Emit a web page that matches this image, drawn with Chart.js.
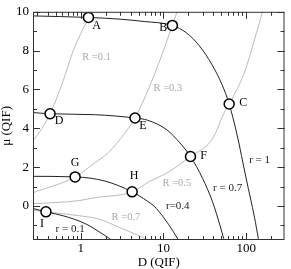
<!DOCTYPE html>
<html>
<head>
<meta charset="utf-8">
<script src="https://cdn.jsdelivr.net/npm/chart.js@4.4.1/dist/chart.umd.min.js"></script>
<style>
    html, body { margin: 0; padding: 0; background: #fff; }
    #chart { display: block; }
</style>
</head>
<body>
<canvas id="chart" width="291" height="269"></canvas>
<script>
// ---- data ----
// black curves, constant r
const r1D = [0.25, 1.24, 3, 5.85, 12.8, 18.9, 27.1, 38.9, 51, 62.2, 76.7, 100, 126, 140, 150];
const r1Mu = [9.79, 9.71, 9.62, 9.5, 9.3, 8.92, 8.25, 7.25, 6.25, 5.25, 3.75, 1.4, -0.6, -1.67, -2.4];
const r07D = [0.25, 0.426, 1.51, 4.53, 6.4, 11, 15.8, 21.2, 29.7, 38.9, 48.8, 53.3, 56];
const r07Mu = [4.82, 4.75, 4.7, 4.53, 4.42, 3.92, 3.25, 2.55, 1.42, 0.25, -1.08, -1.67, -2];
const r04D = [0.25, 0.855, 1.98, 4.18, 6.4, 7.67, 10, 13.2, 15.1, 16];
const r04Mu = [1.53, 1.5, 1.28, 0.73, 0.25, 0, -0.58, -1.33, -1.75, -1.95];
const r01D = [0.25, 0.38, 0.61, 1.15, 1.8, 2.33, 2.5];
const r01Mu = [-0.1, -0.3, -0.5, -0.92, -1.42, -1.75, -1.9];

// gray curves, constant R
const R01D = [0.25, 0.271, 0.426, 0.61, 0.8, 1.06, 1.24, 1.34];
const R01Mu = [3.3, 3.42, 4.75, 6.42, 7.92, 9.1, 9.71, 10.3];
const R03D = [0.25, 0.855, 1.51, 2.16, 3.4, 4.53, 6.7, 9.5, 12.8, 14.7, 16];
const R03Mu = [0.65, 1.5, 2.25, 2.75, 3.75, 4.53, 6.1, 7.75, 9.3, 10.05, 10.6];
const R05D = [0.25, 0.96, 1.44, 4.18, 6.7, 11.5, 21.2, 38.9, 55.8, 62.2, 95.9, 126, 158, 170];
const R05Mu = [0.11, 0.28, 0.42, 0.73, 1.25, 1.75, 2.55, 3.45, 4.92, 5.25, 6.92, 8.58, 10.05, 10.6];
const R07D = [0.25, 0.38, 0.96, 1.65, 2.84, 4.88, 6.4, 7];
const R07Mu = [-0.2, -0.3, -0.5, -0.67, -1.08, -1.5, -1.75, -1.9];

// marked states
const pointNames = ["A", "B", "C", "D", "E", "F", "G", "H", "I"];
const pointD = [1.24, 12.8, 62.2, 0.426, 4.53, 21.2, 0.855, 4.18, 0.38];
const pointMu = [9.71, 9.3, 5.25, 4.75, 4.53, 2.55, 1.5, 0.73, -0.3];

const xTicks = [1, 10, 100];
const yTicks = [0, 2, 4, 6, 8, 10];

// ---- layout / style ----
const black = "#222";
const gray = "#bbb";
const grayText = "#aaa";
const serif = "'Liberation Serif', 'Times New Roman', serif";

// pixel offsets of the letters next to each marker
const pointLabelOffset = {
    A: [8, 8], B: [-9, 2], C: [14, -1], D: [9, 7], E: [8, 8],
    F: [13, -1], G: [0, -14], H: [2, -16], I: [-4, 12]
};

// curve labels, anchored in data coordinates
const curveLabels = [
    { text: "R =0.1", x: 1.55, y: 7.66, color: grayText, size: 10.5 },
    { text: "R =0.3", x: 11.3, y: 6.07, color: grayText, size: 10.5 },
    { text: "R =0.5", x: 14.5, y: 1.19, color: grayText, size: 10.5 },
    { text: "R =0.7", x: 3.52, y: -0.6, color: grayText, size: 10.5 },
    { text: "r = 1", x: 145, y: 2.38, color: black, size: 11 },
    { text: "r = 0.7", x: 59.6, y: 0.94, color: black, size: 11 },
    { text: "r=0.4", x: 14.9, y: 0, color: black, size: 11 },
    { text: "r = 0.1", x: 0.745, y: -1.2, color: black, size: 11 }
];

const toXY = (xs, ys) => xs.map((x, i) => ({ x: x, y: ys[i] }));

const curve = (xs, ys, color) => ({
    data: toXY(xs, ys),
    showLine: true,
    borderColor: color,
    borderWidth: 1,
    pointRadius: 0,
    cubicInterpolationMode: "monotone",
    order: 2
});

// frame, inward ticks on all four sides, and the text labels
const decor = {
    id: "decor",
    afterDatasetsDraw(chart) {
        const { ctx, chartArea: a, scales: { x, y } } = chart;
        ctx.save();
        ctx.strokeStyle = "#333";
        ctx.lineWidth = 1;
        ctx.strokeRect(a.left + 0.5, a.top + 0.5, a.right - a.left - 1, a.bottom - a.top - 1);

        ctx.beginPath();
        const xMinor = [];
        [0.1, 1, 10, 100].forEach(dec => {
            for (let k = 2; k <= 9; k++) xMinor.push(dec * k);
        });
        const tickX = (v, len) => {
            if (v < x.min || v > x.max) return;
            const px = Math.round(x.getPixelForValue(v)) + 0.5;
            ctx.moveTo(px, a.bottom); ctx.lineTo(px, a.bottom - len);
            ctx.moveTo(px, a.top); ctx.lineTo(px, a.top + len);
        };
        xTicks.forEach(v => tickX(v, 7));
        xMinor.forEach(v => tickX(v, 4));
        const tickY = (v, len) => {
            if (v < y.min || v > y.max) return;
            const py = Math.round(y.getPixelForValue(v)) + 0.5;
            ctx.moveTo(a.left, py); ctx.lineTo(a.left + len, py);
            ctx.moveTo(a.right, py); ctx.lineTo(a.right - len, py);
        };
        yTicks.forEach(v => tickY(v, 7));
        [-1, 1, 3, 5, 7, 9].forEach(v => tickY(v, 4));
        ctx.stroke();

        ctx.textAlign = "center";
        ctx.textBaseline = "middle";
        curveLabels.forEach(l => {
            ctx.font = l.size + "px " + serif;
            ctx.fillStyle = l.color;
            ctx.fillText(l.text, x.getPixelForValue(l.x), y.getPixelForValue(l.y));
        });

        ctx.fillStyle = "#000";
        ctx.font = "12px " + serif;
        pointNames.forEach((n, i) => {
            const off = pointLabelOffset[n];
            ctx.fillText(n, x.getPixelForValue(pointD[i]) + off[0], y.getPixelForValue(pointMu[i]) + off[1]);
        });
        ctx.restore();
    }
};

new Chart(document.getElementById("chart"), {
    type: "scatter",
    data: {
        datasets: [
            {
                data: toXY(pointD, pointMu),
                pointRadius: 5,
                pointBackgroundColor: "#fff",
                pointBorderColor: "#000",
                pointBorderWidth: 1.5,
                showLine: false,
                order: 0
            },
            curve(r1D, r1Mu, black),
            curve(r07D, r07Mu, black),
            curve(r04D, r04Mu, black),
            curve(r01D, r01Mu, black),
            curve(R01D, R01Mu, gray),
            curve(R03D, R03Mu, gray),
            curve(R05D, R05Mu, gray),
            curve(R07D, R07Mu, gray)
        ]
    },
    options: {
        responsive: false,
        animation: false,
        devicePixelRatio: 1,
        layout: { padding: { top: 4, right: 1, left: 0, bottom: 0 } },
        plugins: {
            legend: { display: false },
            tooltip: { enabled: false }
        },
        scales: {
            x: {
                type: "logarithmic",
                min: 0.265,
                max: 290,
                grid: { display: false, drawTicks: false },
                border: { display: false },
                afterBuildTicks: s => { s.ticks = xTicks.map(v => ({ value: v })); },
                afterFit: s => { s.height = 29; },
                ticks: {
                    padding: 1,
                    color: "#000",
                    font: { family: serif, size: 13 },
                    maxRotation: 0,
                    callback: v => String(v)
                },
                title: {
                    display: true,
                    text: "D (QIF)",
                    color: "#000",
                    font: { family: serif, size: 13, lineHeight: 1 },
                    padding: 0
                }
            },
            y: {
                min: -1.75,
                max: 10,
                grid: { display: false, drawTicks: false },
                border: { display: false },
                afterBuildTicks: s => { s.ticks = yTicks.map(v => ({ value: v })); },
                afterFit: s => { s.width = 33; },
                ticks: {
                    padding: 4,
                    color: "#000",
                    font: { family: serif, size: 13 },
                    callback: v => String(v)
                },
                title: {
                    display: true,
                    text: "μ (QIF)",
                    color: "#000",
                    font: { family: serif, size: 13, lineHeight: 1 },
                    padding: 0
                }
            }
        }
    },
    plugins: [decor]
});
</script>
</body>
</html>
